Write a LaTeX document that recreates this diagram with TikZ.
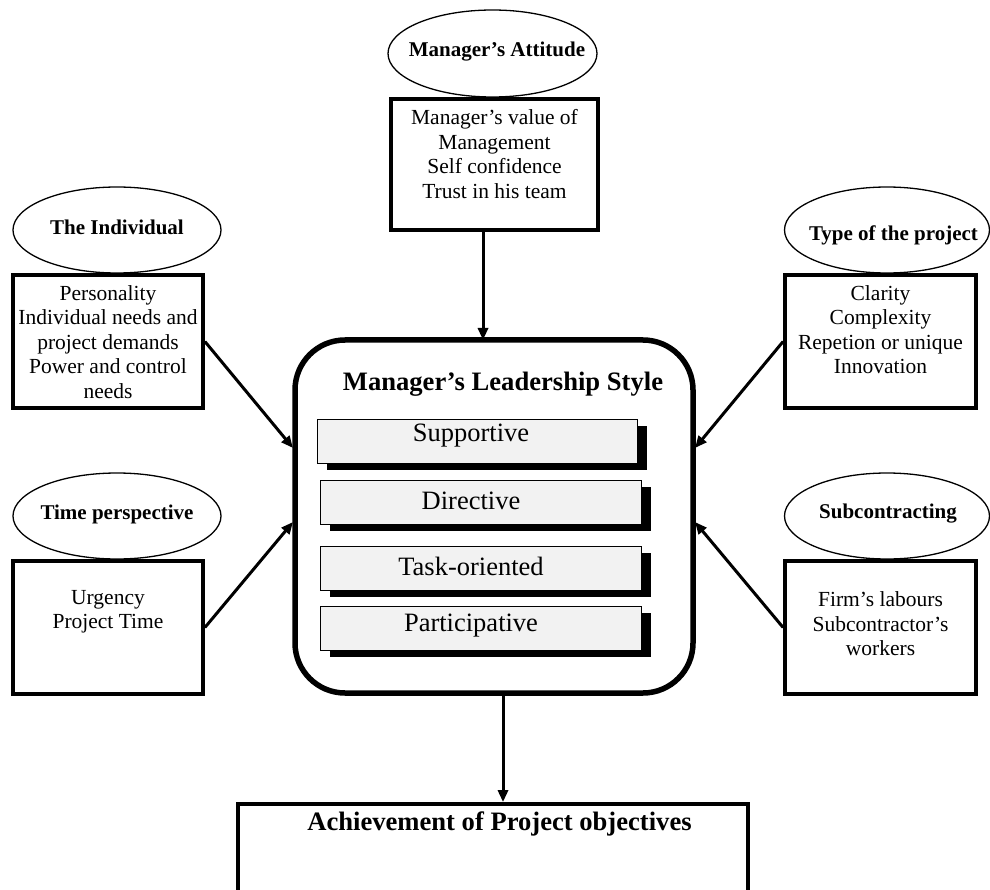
\documentclass[tikz,border=0pt]{standalone}
\usepackage{fontspec}
\setmainfont{Liberation Serif}
\usetikzlibrary{shapes.geometric,arrows.meta,shadows}
\begin{document}
\begin{tikzpicture}[x=1pt,y=-1pt,
 ell/.style={draw, line width=1.3pt, ellipse, inner sep=0pt, minimum width=208pt, minimum height=86pt},
 etxt/.style={inner sep=0pt, font=\fontsize{21}{24}\selectfont\bfseries},
 sbox/.style={draw, line width=3.8pt, fill=white, rectangle, inner sep=0pt},
 txt/.style={align=center, inner sep=0pt, font=\fontsize{21.5}{24.5}\selectfont},
 inbox/.style={draw, line width=1pt, fill=black!5, inner sep=0pt, minimum width=321pt, minimum height=44pt, drop shadow={shadow xshift=10pt, shadow yshift=-7pt, fill=black, opacity=1}},
 intxt/.style={inner sep=0pt, font=\fontsize{26.5}{30}\selectfont},
 hdr/.style={inner sep=0pt, font=\fontsize{26.6}{30}\selectfont\bfseries},
 arr/.style={line width=3pt, -{Triangle[length=12pt,width=10pt]}}
]
\useasboundingbox (0,0) rectangle (990,890);
\clip (0,0) rectangle (990,890);
\fill[white] (0,0) rectangle (990,890);

% ellipses
\node[ell, minimum width=209pt, minimum height=87pt] (eAtt) at (492.5,53.5) {};
\node[etxt] (teAtt) at (497,52) {Manager’s Attitude};
\node[ell] (eInd) at (117,230) {};
\node[etxt] (teInd) at (117,227) {The Individual};
\node[ell, minimum width=205pt] (eType) at (887,230) {};
\node[etxt] (teType) at (893.5,235) {Type of the project};
\node[ell] (eTime) at (117,516) {};
\node[etxt] (teTime) at (117,514) {Time perspective};
\node[ell, minimum width=205pt] (eSub) at (887,516) {};
\node[etxt] (teSub) at (888,514) {Subcontracting};

% boxes
\node[sbox, minimum width=207pt, minimum height=131pt] (bAtt) at (494.5,164.5) {};
\node[txt] (tAtt) at (494.5,154) {Manager’s value of\\Management\\Self confidence\\Trust in his team};

\node[sbox, minimum width=190pt, minimum height=133pt] (bInd) at (108,341.5) {};
\node[txt] (tInd) at (108,342) {Personality\\Individual needs and\\project demands\\Power and control\\needs};

\node[sbox, minimum width=191pt, minimum height=133pt] (bType) at (880.5,341.5) {};
\node[txt] (tType) at (880.5,329.5) {Clarity\\Complexity\\Repetion or unique\\Innovation};

\node[sbox, minimum width=190pt, minimum height=133pt] (bTime) at (108,627.5) {};
\node[txt] (tTime) at (108,611.5) {Urgency\\Project Time};

\node[sbox, minimum width=191pt, minimum height=133pt] (bSub) at (880.5,627.5) {};
\node[txt] (tSub) at (880.5,624) {Firm’s labours\\Subcontractor’s\\workers};

% main rounded box
\node[draw, line width=5.5pt, rounded corners=50pt, fill=white, minimum width=398pt, minimum height=353pt, inner sep=0pt] (main) at (494,516.5) {};
\node[hdr] (tMain) at (503,384) {Manager’s Leadership Style};

\node[inbox, minimum width=320pt] (s1) at (477,441) {};
\node[intxt] (ts1) at (471,436) {Supportive};
\node[inbox] (s2) at (480.5,502) {};
\node[intxt] (ts2) at (471,501) {Directive};
\node[inbox] (s3) at (480.5,568) {};
\node[intxt] (ts3) at (471,566) {Task-oriented};
\node[inbox] (s4) at (480.5,628) {};
\node[intxt] (ts4) at (471,626) {Participative};

% achievement box
\node[sbox, minimum width=510pt, minimum height=200pt] (ach) at (493,904) {};
\node[hdr] (tAch) at (499.5,824) {Achievement of Project objectives};

% connector endpoints on main box
\coordinate (mTop) at (483,340);
\coordinate (mBot) at (503,693);
\coordinate (mL1) at (293,448);
\coordinate (mL2) at (293,522);
\coordinate (mR1) at (695,448);
\coordinate (mR2) at (695,522);

\draw[arr] (bAtt.south -| mTop) -- (mTop);
\draw[arr] (bInd.east) -- (mL1);
\draw[arr] (bTime.east) -- (mL2);
\draw[arr] (bType.west) -- (mR1);
\draw[arr] (bSub.west) -- (mR2);
\draw[arr] (mBot) -- (ach.north -| mBot);
\end{tikzpicture}
\end{document}
